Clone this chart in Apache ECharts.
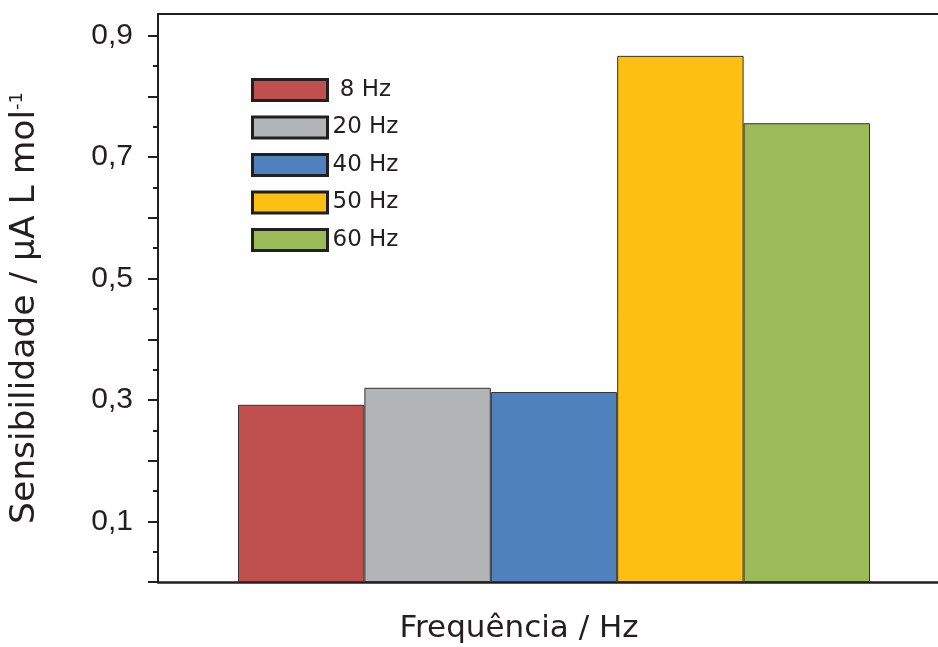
<!DOCTYPE html>
<html>
<head>
<meta charset="utf-8">
<script src="https://cdn.jsdelivr.net/npm/echarts@6/dist/echarts.min.js"></script>
<style>
  html, body { margin: 0; padding: 0; background: #fff; }
  #chart { width: 938px; height: 647px; }
</style>
</head>
<body>
<div id="chart"></div>
<script>
// data
const categories = ['8 Hz', '20 Hz', '40 Hz', '50 Hz', '60 Hz'];
const sensibilidade = [0.292, 0.320, 0.313, 0.867, 0.756];
const colors = ['#c0504d', '#b3b4b6', '#4f81bd', '#fdbf12', '#9bbb59'];
const majorTicks = [0, 0.1, 0.2, 0.3, 0.4, 0.5, 0.6, 0.7, 0.8, 0.9];
const minorTicks = [0.05, 0.15, 0.25, 0.35, 0.45, 0.55, 0.65, 0.75, 0.85];
const tickLabels = [0.1, 0.3, 0.5, 0.7, 0.9];

const yMin = 0, yMax = 0.936;
const ink = '#231f20';
const font = 'Liberation Sans';
const wide = 'DejaVu Sans';

const chart = echarts.init(document.getElementById('chart'));

const series = categories.map((name, i) => ({
    name: name,
    type: 'bar',
    xAxisIndex: 1,
    yAxisIndex: 2,
    stack: 'all',
    barWidth: '100%',
    itemStyle: { color: colors[i], borderColor: '#333', borderWidth: 1 },
    data: categories.map((c, j) => (j === i ? sensibilidade[i] : '-'))
}));

const option = {
    animation: false,
    textStyle: { fontFamily: font },
    grid: [
        { left: 158, right: 0, top: 14, bottom: 65, containLabel: false, outerBoundsMode: 'none' },
        { left: 238, right: 68, top: 14, bottom: 65, containLabel: false, outerBoundsMode: 'none' }
    ],
    legend: {
        orient: 'vertical',
        left: 251,
        top: 78,
        padding: 0,
        itemWidth: 75,
        itemHeight: 21,
        itemGap: 13.5,
        icon: 'rect',
        itemStyle: { borderColor: ink, borderWidth: 3 },
        textStyle: { fontSize: 23, color: ink, fontFamily: wide },
        formatter: name => (name.length < 5 ? ' ' + name : name),
        data: categories
    },
    xAxis: [
        {
            gridIndex: 0, type: 'value', min: 0, max: 1, position: 'bottom',
            axisLine: { show: true, lineStyle: { color: ink, width: 2.5 } },
            axisTick: { show: false }, axisLabel: { show: false }, splitLine: { show: false },
            name: 'Frequência / Hz',
            nameLocation: 'middle',
            nameGap: 31,
            nameTextStyle: { fontSize: 31, color: ink, fontFamily: wide, padding: [0, 58, 0, 0] }
        },
        {
            gridIndex: 1, type: 'category', data: categories, show: false
        },
        {
            gridIndex: 0, type: 'value', min: 0, max: 1, position: 'top',
            axisLine: { show: true, onZero: false, lineStyle: { color: ink, width: 2 } },
            axisTick: { show: false }, axisLabel: { show: false }, splitLine: { show: false }
        }
    ],
    yAxis: [
        {
            gridIndex: 0, type: 'value', min: yMin, max: yMax, interval: 0.1, position: 'left',
            axisLine: { show: true, lineStyle: { color: ink, width: 2 } },
            axisTick: { show: true, length: 10, customValues: majorTicks, lineStyle: { color: ink, width: 2 } },
            axisLabel: {
                customValues: tickLabels,
                margin: 25,
                fontSize: 30,
                color: ink,
                fontFamily: font,
                formatter: v => v.toFixed(1).replace('.', ',')
            },
            splitLine: { show: false },
            name: 'Sensibilidade / µA L mol{sup|-1}',
            nameLocation: 'middle',
            nameGap: 115,
            nameTextStyle: {
                fontSize: 34.5, color: ink, fontFamily: wide, padding: [0, 20, 0, 0],
                rich: { sup: { fontSize: 18, color: ink, fontFamily: wide, padding: [0, 0, 17, 0] } }
            }
        },
        {
            gridIndex: 0, type: 'value', min: yMin, max: yMax, interval: 0.1, position: 'left',
            axisLine: { show: false },
            axisTick: { show: true, length: 5, customValues: minorTicks, lineStyle: { color: ink, width: 2 } },
            axisLabel: { show: false },
            splitLine: { show: false }
        },
        {
            gridIndex: 1, type: 'value', min: yMin, max: yMax, show: false
        }
    ],
    series: series
};

chart.setOption(option);
</script>
</body>
</html>
